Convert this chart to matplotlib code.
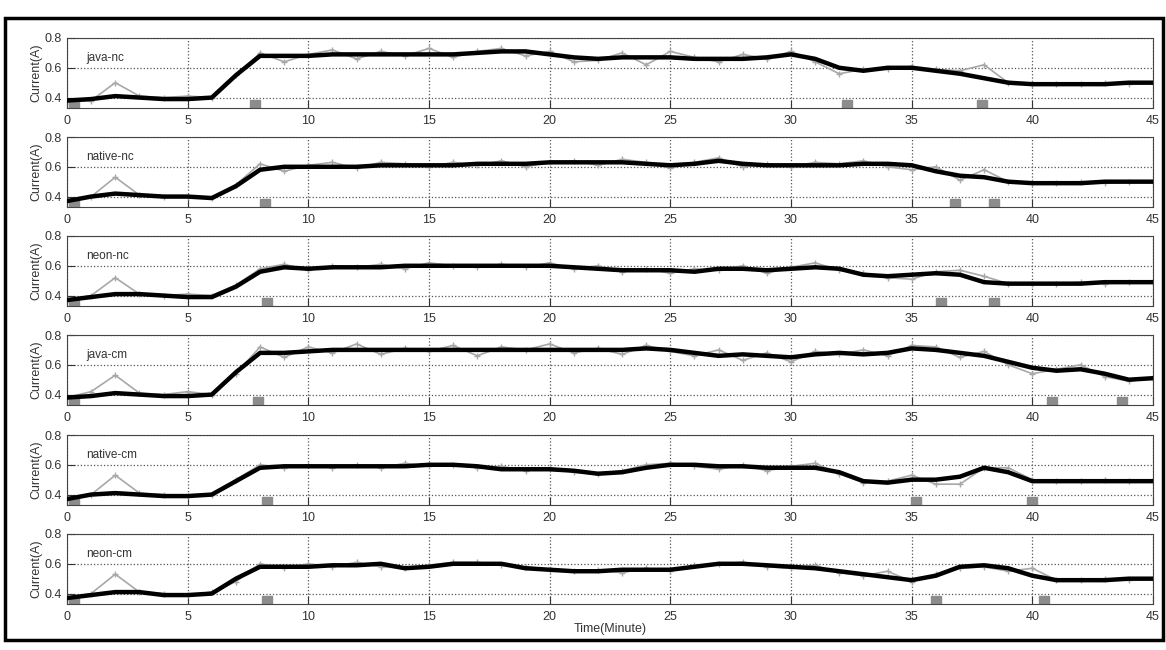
import numpy as np
import matplotlib
matplotlib.use("Agg")
import matplotlib.pyplot as plt
from matplotlib.patches import Rectangle

plt.rcParams['font.family'] = ['Liberation Sans', 'DejaVu Sans']

# sample times (minutes)
minutes = list(range(46))

names = ["java-nc", "native-nc", "neon-nc", "java-cm", "native-cm", "neon-cm"]

# smoothed current (black line), one value per minute
java_nc_smooth = [0.38, 0.39, 0.41, 0.40, 0.39, 0.39, 0.40, 0.55, 0.68, 0.68, 0.68, 0.69, 0.69, 0.69, 0.69, 0.69,
                  0.69, 0.70, 0.71, 0.71, 0.69, 0.67, 0.66, 0.67, 0.67, 0.67, 0.66, 0.66, 0.66, 0.67, 0.69, 0.66,
                  0.60, 0.58, 0.60, 0.60, 0.58, 0.56, 0.53, 0.50, 0.49, 0.49, 0.49, 0.49, 0.50, 0.50]
native_nc_smooth = [0.37, 0.40, 0.42, 0.41, 0.40, 0.40, 0.39, 0.47, 0.58, 0.60, 0.60, 0.60, 0.60, 0.61, 0.61, 0.61,
                    0.61, 0.62, 0.62, 0.62, 0.63, 0.63, 0.63, 0.63, 0.62, 0.61, 0.62, 0.64, 0.62, 0.61, 0.61, 0.61,
                    0.61, 0.62, 0.62, 0.61, 0.57, 0.54, 0.53, 0.50, 0.49, 0.49, 0.49, 0.50, 0.50, 0.50]
neon_nc_smooth = [0.37, 0.39, 0.41, 0.41, 0.40, 0.39, 0.39, 0.46, 0.56, 0.59, 0.58, 0.59, 0.59, 0.59, 0.60, 0.60,
                  0.60, 0.60, 0.60, 0.60, 0.60, 0.59, 0.58, 0.57, 0.57, 0.57, 0.56, 0.58, 0.58, 0.57, 0.58, 0.59,
                  0.58, 0.54, 0.53, 0.54, 0.55, 0.54, 0.49, 0.48, 0.48, 0.48, 0.48, 0.49, 0.49, 0.49]
java_cm_smooth = [0.38, 0.39, 0.41, 0.40, 0.39, 0.39, 0.40, 0.55, 0.68, 0.68, 0.69, 0.70, 0.70, 0.70, 0.70, 0.70,
                  0.70, 0.70, 0.70, 0.70, 0.70, 0.70, 0.70, 0.70, 0.71, 0.70, 0.68, 0.66, 0.67, 0.66, 0.65, 0.67,
                  0.68, 0.67, 0.68, 0.71, 0.70, 0.68, 0.66, 0.62, 0.58, 0.56, 0.57, 0.54, 0.50, 0.51]
native_cm_smooth = [0.37, 0.40, 0.41, 0.40, 0.39, 0.39, 0.40, 0.49, 0.58, 0.59, 0.59, 0.59, 0.59, 0.59, 0.59, 0.60,
                    0.60, 0.59, 0.57, 0.57, 0.57, 0.56, 0.54, 0.55, 0.58, 0.60, 0.60, 0.59, 0.59, 0.58, 0.58, 0.58,
                    0.55, 0.49, 0.48, 0.50, 0.50, 0.52, 0.58, 0.55, 0.49, 0.49, 0.49, 0.49, 0.49, 0.49]
neon_cm_smooth = [0.37, 0.39, 0.41, 0.41, 0.39, 0.39, 0.40, 0.50, 0.58, 0.58, 0.58, 0.59, 0.59, 0.60, 0.57, 0.58,
                  0.60, 0.60, 0.60, 0.57, 0.56, 0.55, 0.55, 0.56, 0.56, 0.56, 0.58, 0.60, 0.60, 0.59, 0.58, 0.57,
                  0.55, 0.53, 0.51, 0.49, 0.52, 0.58, 0.59, 0.57, 0.52, 0.49, 0.49, 0.49, 0.50, 0.50]

# raw measured current (gray), one value per minute
java_nc_raw = [0.37, 0.38, 0.50, 0.41, 0.40, 0.41, 0.40, 0.55, 0.70, 0.64, 0.69, 0.72, 0.66, 0.71, 0.68, 0.73,
               0.67, 0.71, 0.73, 0.68, 0.71, 0.64, 0.65, 0.70, 0.62, 0.71, 0.67, 0.64, 0.69, 0.66, 0.71, 0.64,
               0.56, 0.59, 0.59, 0.61, 0.59, 0.58, 0.62, 0.50, 0.49, 0.49, 0.49, 0.50, 0.49, 0.50]
native_nc_raw = [0.37, 0.40, 0.53, 0.41, 0.40, 0.40, 0.39, 0.48, 0.62, 0.57, 0.61, 0.63, 0.59, 0.63, 0.62, 0.60,
                 0.63, 0.61, 0.64, 0.60, 0.63, 0.64, 0.61, 0.65, 0.63, 0.59, 0.63, 0.66, 0.60, 0.62, 0.60, 0.63,
                 0.62, 0.64, 0.60, 0.58, 0.60, 0.51, 0.58, 0.50, 0.49, 0.49, 0.50, 0.49, 0.50, 0.50]
neon_nc_raw = [0.37, 0.40, 0.52, 0.41, 0.40, 0.41, 0.40, 0.47, 0.58, 0.61, 0.57, 0.60, 0.59, 0.61, 0.58, 0.62,
               0.60, 0.59, 0.61, 0.59, 0.62, 0.58, 0.60, 0.56, 0.58, 0.55, 0.58, 0.57, 0.60, 0.55, 0.59, 0.62,
               0.57, 0.55, 0.52, 0.51, 0.56, 0.57, 0.53, 0.48, 0.48, 0.48, 0.49, 0.48, 0.49, 0.49]
java_cm_raw = [0.38, 0.42, 0.53, 0.41, 0.40, 0.42, 0.40, 0.54, 0.72, 0.65, 0.72, 0.68, 0.74, 0.67, 0.71, 0.69,
               0.73, 0.66, 0.72, 0.70, 0.74, 0.68, 0.71, 0.67, 0.73, 0.69, 0.66, 0.70, 0.63, 0.68, 0.62, 0.69,
               0.67, 0.70, 0.66, 0.73, 0.72, 0.65, 0.69, 0.60, 0.54, 0.57, 0.60, 0.52, 0.49, 0.51]
native_cm_raw = [0.37, 0.40, 0.53, 0.41, 0.40, 0.39, 0.40, 0.50, 0.60, 0.58, 0.60, 0.58, 0.60, 0.58, 0.61, 0.59,
                 0.60, 0.58, 0.59, 0.56, 0.58, 0.55, 0.54, 0.56, 0.60, 0.61, 0.59, 0.57, 0.60, 0.56, 0.59, 0.61,
                 0.54, 0.48, 0.49, 0.53, 0.47, 0.47, 0.58, 0.58, 0.50, 0.49, 0.49, 0.50, 0.49, 0.50]
neon_cm_raw = [0.37, 0.40, 0.53, 0.41, 0.40, 0.39, 0.41, 0.48, 0.60, 0.57, 0.60, 0.58, 0.61, 0.58, 0.57, 0.59,
               0.61, 0.61, 0.59, 0.58, 0.56, 0.55, 0.56, 0.54, 0.57, 0.55, 0.59, 0.60, 0.61, 0.58, 0.57, 0.59,
               0.54, 0.52, 0.55, 0.48, 0.53, 0.57, 0.58, 0.55, 0.57, 0.49, 0.49, 0.50, 0.49, 0.50]

# times where the raw signal drops to the bottom of the axis
java_nc_drops = [0.3, 7.8, 32.3, 37.9]
native_nc_drops = [0.3, 8.2, 36.8, 38.4]
neon_nc_drops = [0.3, 8.3, 36.2, 38.4]
java_cm_drops = [0.3, 7.9, 40.8, 43.7]
native_cm_drops = [0.3, 8.3, 35.2, 40.0]
neon_cm_drops = [0.3, 8.3, 36.0, 40.5]

smooth = [java_nc_smooth, native_nc_smooth, neon_nc_smooth, java_cm_smooth, native_cm_smooth, neon_cm_smooth]
raw = [java_nc_raw, native_nc_raw, neon_nc_raw, java_cm_raw, native_cm_raw, neon_cm_raw]
drops = [java_nc_drops, native_nc_drops, neon_nc_drops, java_cm_drops, native_cm_drops, neon_cm_drops]

W, H = 1166, 650
fig = plt.figure(figsize=(W / 100, H / 100), dpi=100)
fig.patches.append(Rectangle((5 / W, 1 - 640 / H), 1158 / W, 622 / H, transform=fig.transFigure,
                             fill=False, edgecolor='black', linewidth=2.5))

tops = [38, 137, 236, 335, 435, 534]
left, right, ph = 67, 1153, 70
text_col = '#333333'

for i, top in enumerate(tops):
    ax = fig.add_axes([left / W, 1 - (top + ph) / H, (right - left) / W, ph / H])
    ax.plot(minutes, raw[i], color='#a8a8a8', linewidth=1.2, marker='+', markersize=5, zorder=2)
    ax.plot(drops[i], [0.35] * len(drops[i]), linestyle='none', marker='s', markersize=7,
            color='#8c8c8c', zorder=2)
    ax.plot(minutes, smooth[i], color='black', linewidth=3.2, solid_joinstyle='round',
            solid_capstyle='round', zorder=3)
    ax.set_xlim(0, 45)
    ax.set_ylim(0.33, 0.8)
    ax.set_xticks(range(0, 46, 5))
    ax.set_yticks([0.4, 0.6, 0.8])
    ax.set_yticklabels(['0.4', '0.6', '0.8'])
    ax.grid(True, linestyle=':', color='#555555', linewidth=0.9)
    ax.tick_params(direction='in', length=6, labelsize=9, colors=text_col, labelcolor=text_col)
    ax.tick_params(axis='x', pad=5)
    for s in ax.spines.values():
        s.set_color('#444444')
        s.set_linewidth(0.8)
    ax.set_ylabel('Current(A)', fontsize=9, color=text_col, labelpad=2)
    ax.text(0.8, 0.665, names[i], fontsize=8.5, color=text_col, va='center', ha='left')
    if i == len(tops) - 1:
        ax.set_xlabel('Time(Minute)', fontsize=9, color=text_col, labelpad=0)

fig.savefig('out.png', dpi=100)
